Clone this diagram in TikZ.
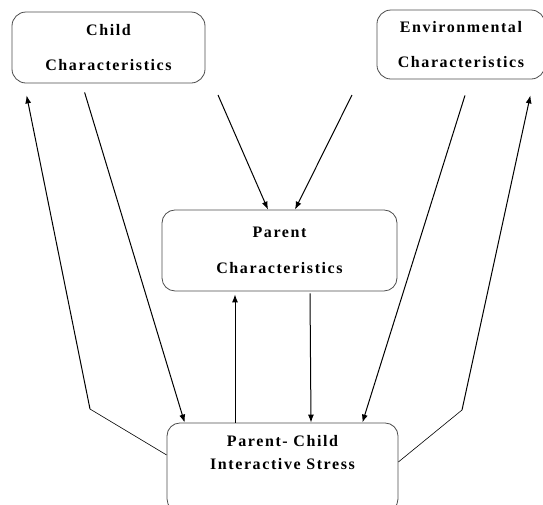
\documentclass[tikz,border=0pt]{standalone}
\usepackage{fontspec}
\newfontfamily\boxfont[LetterSpace=10]{Liberation Serif}
\usetikzlibrary{shapes.geometric, arrows.meta}
\tikzstyle{topbox} = [
    rectangle,
    rounded corners=14pt,
    inner sep=0pt,
    align=center,
    font=\boxfont\bfseries\fontsize{16}{19}\selectfont,
    draw=black!70,
    line width=0.8pt
]
\tikzstyle{midbox} = [
    rectangle,
    rounded corners=13pt,
    inner sep=0pt,
    align=center,
    font=\boxfont\bfseries\fontsize{16}{19}\selectfont,
    draw=black!70,
    line width=0.8pt
]
\tikzstyle{arrow} = [line width=1pt,->,>={Latex[length=8pt,width=6pt]}]
\tikzstyle{link} = [line width=0.6pt]

\begin{document}
\begin{tikzpicture}[node distance=1.5cm]
\useasboundingbox (0,0) rectangle (543pt,-504pt);

\node (child) [topbox, minimum width=193pt, minimum height=71pt]
at (108.5pt,-47.5pt) {Child\\[16pt]Characteristics};

\node (env) [topbox, right of=child, xshift=309.8pt, yshift=3pt,
minimum width=168pt, minimum height=69pt]
{Environmental\\[16pt]Characteristics};

\node (parent) [midbox, below of=child, xshift=171pt, yshift=-160.3pt,
minimum width=235pt, minimum height=81pt]
{Parent\\[17pt]Characteristics};

\node (stress) [midbox, below of=parent, xshift=3pt, yshift=-174.3pt,
minimum width=231pt, text height=47pt, text depth=42pt]
{Parent- Child\\[4pt]Interactive Stress};

\coordinate (lbend) at (90pt,-409pt);
\coordinate (rbend) at (462pt,-410pt);
\coordinate (cfree) at (218pt,-95pt);
\coordinate (efree) at (352pt,-95pt);

\draw [link] ([yshift=12.5pt]stress.west) -- (lbend);
\draw [arrow] (lbend) -- ([xshift=15pt,yshift=-12pt]child.south west);
\draw [arrow] ([xshift=73pt,yshift=-9pt]child.south west) -- ([xshift=18pt]stress.north west);

\draw [arrow] (cfree) -- ([xshift=-11.5pt]parent.north);
\draw [arrow] (efree) -- ([xshift=15.5pt]parent.north);

\draw [arrow] ([xshift=4pt,yshift=-16pt]env.south) -- ([xshift=-36pt]stress.north east);
\draw [link] ([yshift=5.5pt]stress.east) -- (rbend);
\draw [arrow] (rbend) -- ([xshift=-15pt,yshift=-16pt]env.south east);

\draw [arrow] ([xshift=-47.5pt]stress.north) -- ([xshift=-44.5pt,yshift=-3pt]parent.south);
\draw [arrow] ([xshift=30.5pt,yshift=-2pt]parent.south) -- ([xshift=28.5pt]stress.north);

\end{tikzpicture}
\end{document}
